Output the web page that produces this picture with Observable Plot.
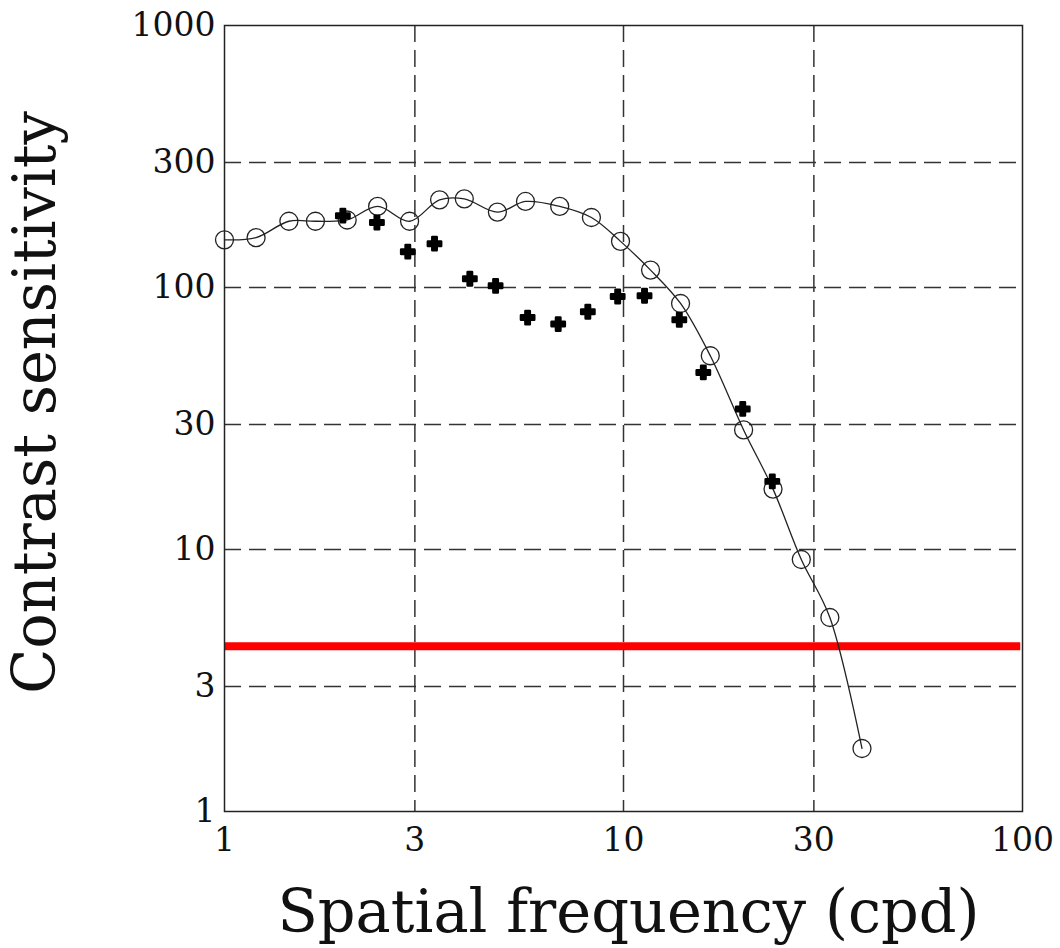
<!DOCTYPE html>
<html>
<head>
<meta charset="utf-8">
<script src="https://cdn.jsdelivr.net/npm/d3@7"></script>
<script src="https://cdn.jsdelivr.net/npm/@observablehq/plot@0.6"></script>
<style>
  html, body { margin: 0; padding: 0; background: #fff; }
</style>
</head>
<body>
<div id="chart"></div>
<script>
// Open circles (connected by a line)
const circleFreq = [1.00, 1.20, 1.45, 1.69, 2.03, 2.42, 2.91, 3.46, 3.99, 4.83, 5.68, 6.92, 8.31, 9.83, 11.69, 13.9, 16.5, 20.0, 23.7, 27.9, 32.9, 39.6];
const circleSens = [152, 155, 179, 179, 181, 204, 179, 216, 218, 194, 213, 204, 185, 150, 116.5, 86.9, 54.9, 28.6, 17.0, 9.16, 5.50, 1.74];

// Filled crosses
const crossFreq = [1.98, 2.41, 2.88, 3.36, 4.12, 4.78, 5.75, 6.86, 8.14, 9.67, 11.29, 13.8, 15.85, 19.9, 23.6];
const crossSens = [188, 177, 137, 147, 108, 101.5, 76.8, 72.5, 80.8, 92.4, 93.0, 75.3, 47.4, 34.4, 18.2];

// Red threshold line
const threshold = [4.27];

// Tick values
const xTicks = [1, 3, 10, 30, 100];
const yTicks = [1, 3, 10, 30, 100, 300, 1000];
const xGrid = [3, 10, 30];
const yGrid = [3, 10, 30, 100, 300];

const xTitle = "Spatial frequency (cpd)";
const yTitle = "Contrast sensitivity";

const circles = circleFreq.map((f, i) => ({f, s: circleSens[i]}));
const crosses = crossFreq.map((f, i) => ({f, s: crossSens[i]}));

const chart = Plot.plot({
  width: 1060,
  height: 948,
  marginLeft: 224,
  marginRight: 38,
  marginTop: 25,
  marginBottom: 137,
  style: {fontFamily: "DejaVu Serif", fontSize: "33px", background: "#fff", color: "#111"},
  x: {type: "log", domain: [1, 100]},
  y: {type: "log", domain: [1, 1000]},
  marks: [
    Plot.ruleX(xGrid, {stroke: "#333", strokeWidth: 1.5, strokeDasharray: "17,8"}),
    Plot.ruleY(yGrid, {stroke: "#333", strokeWidth: 1.5, strokeDasharray: "17,8"}),
    Plot.ruleY(threshold, {x1: 1, x2: 99, stroke: "#ff0000", strokeWidth: 8}),
    Plot.line(circles, {x: "f", y: "s", curve: "catmull-rom", stroke: "#222", strokeWidth: 1.3}),
    Plot.dot(circles, {x: "f", y: "s", r: 9, stroke: "#222", strokeWidth: 1.3, fill: "none"}),
    Plot.dot(crosses, {x: "f", y: "s", symbol: "cross", r: 5.6, fill: "#000", stroke: "#000", strokeWidth: 2.5, strokeLinejoin: "round"}),
    Plot.frame({stroke: "#222", strokeWidth: 1.5}),
    Plot.axisX({ticks: xTicks, tickSize: 0, tickPadding: 16, tickFormat: d => String(d), label: null, fontSize: 33}),
    Plot.axisY({ticks: yTicks, tickSize: 0, tickPadding: 9, tickFormat: d => String(d), label: null, fontSize: 33}),
    Plot.text([xTitle], {frameAnchor: "bottom", text: d => d, dx: 5, dy: 102, textAnchor: "middle", lineAnchor: "middle", fontSize: 59, fill: "#111"}),
    Plot.text([yTitle], {frameAnchor: "left", text: d => d, rotate: -90, dx: -188, dy: -16, textAnchor: "middle", lineAnchor: "middle", fontSize: 59, fill: "#111"})
  ]
});
document.getElementById("chart").appendChild(chart);
</script>
</body>
</html>
